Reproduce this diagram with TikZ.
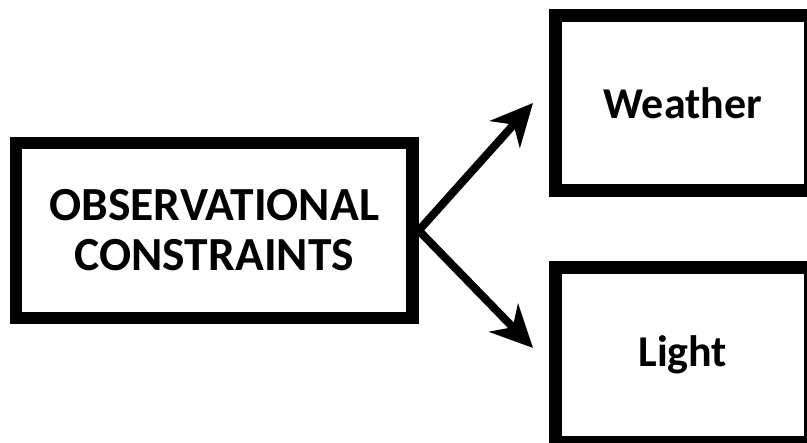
\documentclass[tikz,border=0pt]{standalone}
\usepackage{fontspec}
\setmainfont{Carlito}
\usetikzlibrary{arrows.meta}
\begin{document}
\begin{tikzpicture}[x=1bp,y=-1bp,
  box/.style={draw=black,line width=12.5bp,fill=white,inner sep=0pt,align=center,
    font=\bfseries\fontsize{44bp}{50bp}\selectfont},
  link/.style={line width=8bp,-{Stealth[length=42bp,width=40bp,inset=13bp]}}]
\useasboundingbox (0,0) rectangle (807,443);
\clip (0,0) rectangle (807,443);
\node[box,minimum width=396.5bp,minimum height=175bp,
  font=\bfseries\fontsize{47.5bp}{50bp}\selectfont] (obs) at (214.25,230.5) {OBSERVATIONAL\\CONSTRAINTS};
\node[box,minimum width=254.5bp,minimum height=175bp] (weather) at (682.75,103) {Weather};
\node[box,minimum width=254.5bp,minimum height=174.5bp] (light) at (682.75,354.75) {Light};
\coordinate (tw) at (533,103);
\coordinate (tl) at (533,348);
\draw[link] (obs.east) -- (tw);
\draw[link] (obs.east) -- (tl);
\end{tikzpicture}
\end{document}
